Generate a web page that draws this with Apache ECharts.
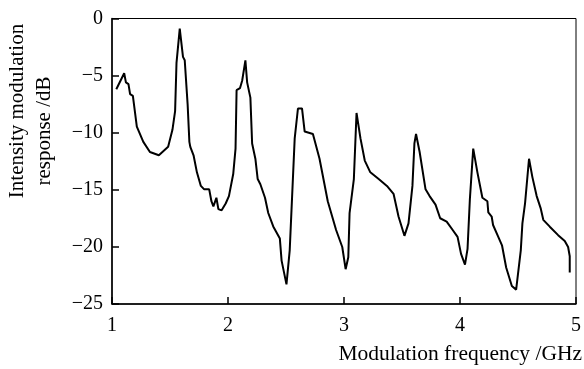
<!DOCTYPE html>
<html>
<head>
<meta charset="utf-8">
<script src="https://cdn.jsdelivr.net/npm/echarts@6/dist/echarts.min.js"></script>
<style>
  html, body { margin: 0; padding: 0; background: #fff; }
  #chart { width: 584px; height: 369px; }
</style>
</head>
<body>
<div id="chart"></div>
<script>
// frequency (GHz) and response (dB)
const freq = [
  1.037, 1.105, 1.12, 1.142, 1.156, 1.18, 1.214, 1.27, 1.327, 1.404, 1.484, 1.521, 1.544,
  1.556, 1.57, 1.584, 1.612, 1.627, 1.652, 1.667, 1.675, 1.703, 1.732, 1.766, 1.795, 1.838,
  1.857, 1.874, 1.9, 1.917, 1.945, 1.98, 2.008, 2.045, 2.065, 2.074, 2.103, 2.122, 2.15,
  2.165, 2.193, 2.208, 2.236, 2.256, 2.279, 2.319, 2.347, 2.39, 2.447, 2.462, 2.504, 2.532,
  2.575, 2.603, 2.638, 2.661, 2.732, 2.789, 2.86, 2.932, 2.985, 3.014, 3.037, 3.048, 3.085,
  3.108, 3.142, 3.179, 3.227, 3.299, 3.37, 3.427, 3.47, 3.521, 3.556, 3.59, 3.607, 3.621,
  3.652, 3.703, 3.738, 3.789, 3.829, 3.885, 3.937, 3.979, 4.009, 4.043, 4.065, 4.085, 4.114,
  4.15, 4.193, 4.236, 4.244, 4.273, 4.285, 4.33, 4.362, 4.398, 4.447, 4.484, 4.524, 4.538,
  4.561, 4.595, 4.624, 4.661, 4.695, 4.718, 4.774, 4.846, 4.903, 4.932, 4.946, 4.946
];
const response = [
  -6.19, -4.79, -5.59, -5.74, -6.63, -6.78, -9.46, -10.8, -11.69, -11.98, -11.24, -9.75, -8.12,
  -3.89, -3.8, -0.89, -3.36, -3.66, -7.52, -10.8, -11.24, -11.98, -13.47, -14.66, -14.96, -14.96,
  -16.0, -16.45, -15.7, -16.69, -16.8, -16.2, -15.55, -13.62, -11.39, -6.28, -6.1, -5.45, -3.66,
  -5.59, -6.93, -10.94, -12.28, -14.06, -14.51, -15.7, -17.03, -18.21, -19.27, -21.2, -23.28, -20.3,
  -10.5, -7.88, -7.88, -9.9, -10.11, -12.28, -16.0, -18.52, -20.01, -21.95, -20.9, -17.04, -14.06,
  -8.27, -10.5, -12.44, -13.47, -14.06, -14.66, -15.35, -17.34, -19.03, -17.94, -14.66, -10.94, -10.11,
  -11.69, -14.96, -15.55, -16.3, -17.49, -17.78, -18.52, -19.12, -20.61, -21.56, -20.17, -15.85, -11.39,
  -13.47, -15.7, -16.0, -16.98, -17.34, -18.08, -19.12, -19.86, -21.8, -23.43, -23.74, -20.3, -17.94,
  -16.16, -12.28, -13.89, -15.55, -16.6, -17.63, -18.23, -18.97, -19.48, -20.01, -20.82, -22.25
];
const xTicks = [1, 2, 3, 4, 5];
const yTicks = [0, -5, -10, -15, -20, -25];

const serif = '"Liberation Serif", "DejaVu Serif", serif';
const chart = echarts.init(document.getElementById('chart'));

chart.setOption({
  animation: false,
  grid: {
    left: 112, right: 5, top: 18.5, bottom: 65,
    show: true, borderColor: '#000', borderWidth: 1, backgroundColor: 'transparent'
  },
  xAxis: {
    type: 'value',
    min: xTicks[0], max: xTicks[xTicks.length - 1], interval: 1,
    axisLine: { onZero: false, lineStyle: { color: '#000', width: 1.5 } },
    axisTick: { inside: true, length: 7, lineStyle: { color: '#000', width: 1.5 } },
    axisLabel: { color: '#000', fontFamily: serif, fontSize: 20, margin: 12 },
    splitLine: { show: false }
  },
  yAxis: {
    type: 'value',
    min: yTicks[yTicks.length - 1], max: yTicks[0], interval: 5,
    axisLine: { onZero: false, lineStyle: { color: '#000', width: 1.5 } },
    axisTick: { inside: true, length: 7, lineStyle: { color: '#000', width: 1.5 } },
    axisLabel: {
      color: '#000', fontFamily: serif, fontSize: 20, margin: 9,
      formatter: v => String(v).replace('-', '\u2212')
    },
    splitLine: { show: false }
  },
  graphic: [
    {
      type: 'text', x: 17, y: 111, rotation: Math.PI / 2,
      style: { text: 'Intensity modulation', font: '21px ' + serif, fill: '#000',
               textAlign: 'center', textVerticalAlign: 'middle' }
    },
    {
      type: 'text', x: 44, y: 131, rotation: Math.PI / 2,
      style: { text: 'response /dB', font: '21px ' + serif, fill: '#000',
               textAlign: 'center', textVerticalAlign: 'middle' }
    },
    {
      type: 'text', x: 582, y: 354,
      style: { text: 'Modulation frequency /GHz', font: '21.5px ' + serif, fill: '#000',
               textAlign: 'right', textVerticalAlign: 'middle' }
    }
  ],
  series: [
    {
      type: 'line',
      data: freq.map((f, i) => [f, response[i]]),
      showSymbol: false,
      lineStyle: { color: '#000', width: 2 },
      itemStyle: { color: '#000' }
    }
  ]
});
</script>
</body>
</html>
